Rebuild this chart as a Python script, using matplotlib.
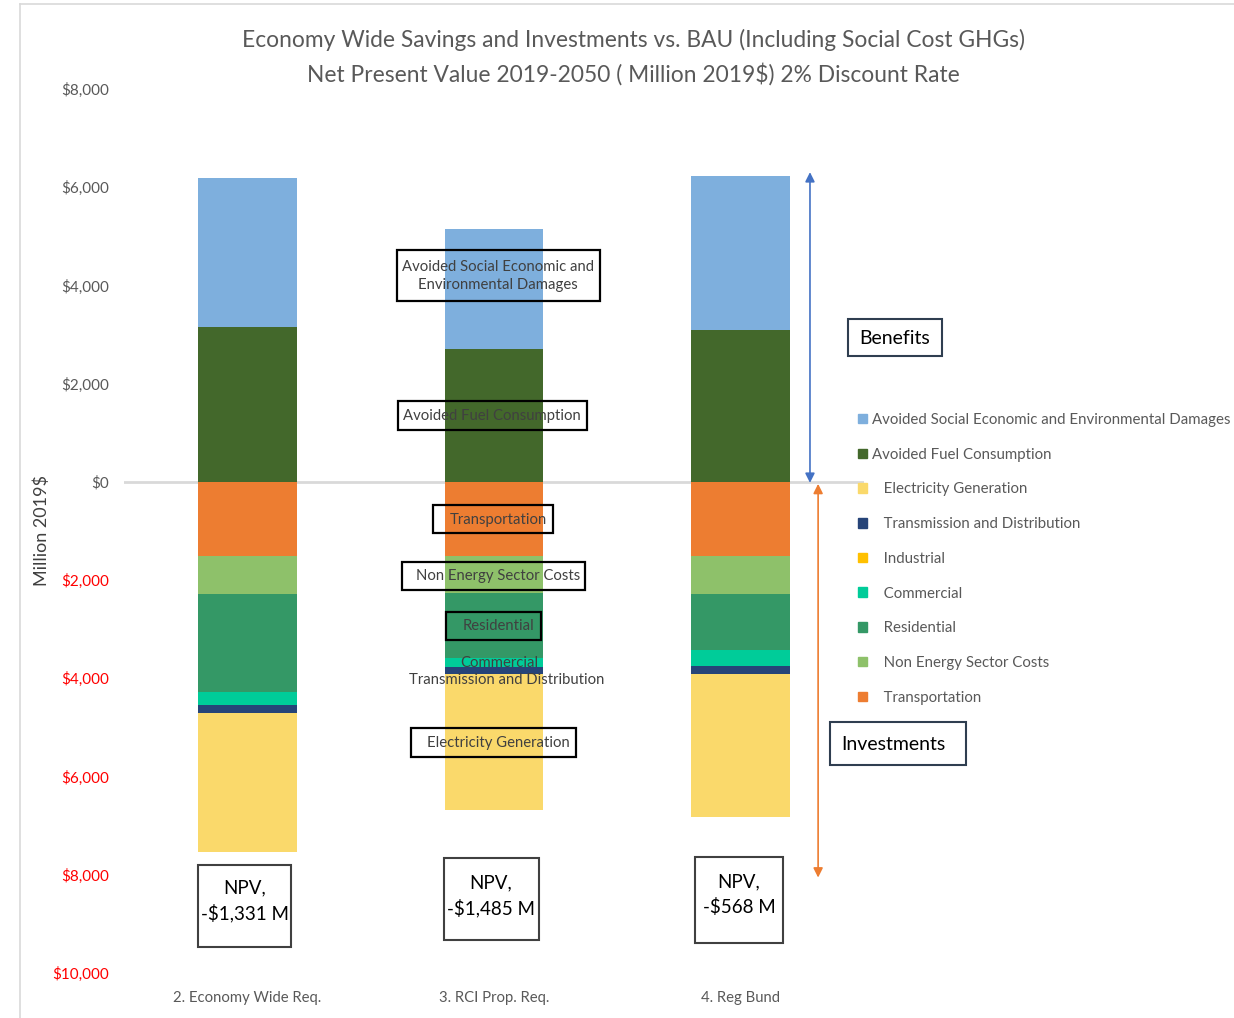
import matplotlib
matplotlib.use("Agg")
import matplotlib.pyplot as plt
from matplotlib.patches import Patch, Rectangle
from matplotlib.lines import Line2D
import numpy as np

plt.rcParams['font.family'] = ['Lato', 'DejaVu Sans']

categories = ["2. Economy Wide Req.", "3. RCI Prop. Req.", "4. Reg Bund"]
damages = [3031, 2442, 3133]
fuel = [3154, 2706, 3093]
transportation = [-1506, -1506, -1506]
non_energy = [-773, -760, -773]
residential = [-1994, -1330, -1140]
commercial = [-265, -170, -326]
industrial = [0, 0, 0]
td = [-163, -150, -163]
electricity = [-2828, -2767, -2914]
npv = [-1331, -1485, -568]
yticks = [-10000, -8000, -6000, -4000, -2000, 0, 2000, 4000, 6000, 8000]

colors = {
    "Avoided Social Economic and Environmental Damages": "#7EAFDD",
    "Avoided Fuel Consumption": "#43682B",
    "Electricity Generation": "#FAD96B",
    "Transmission and Distribution": "#264478",
    "Industrial": "#FFC000",
    "Commercial": "#00CC99",
    "Residential": "#349866",
    "Non Energy Sector Costs": "#8EC16A",
    "Transportation": "#ED7D31",
}

W, H = 1234, 1018
fig = plt.figure(figsize=(W/100, H/100), dpi=100)
ax = fig.add_axes([124/W, 1-973/H, 740/W, (973-89)/H])


def fx(px):
    return px / W


def fy(py):
    return 1 - py / H


def pbox(x0, x1, y0, y1, ec='black', lw=1.6):
    fig.add_artist(Rectangle((fx(x0), fy(y1)), fx(x1) - fx(x0), fy(y0) - fy(y1),
                             transform=fig.transFigure, fill=False, ec=ec, lw=lw, zorder=5))


def ptext(px, py, s, **kw):
    fig.text(fx(px), fy(py), s, ha='center', va='center', zorder=6, **kw)


x = np.arange(len(categories))
w = 0.40

pos_series = [("Avoided Fuel Consumption", fuel),
              ("Avoided Social Economic and Environmental Damages", damages)]
bottom = np.zeros(3)
for name, vals in pos_series:
    v = np.array(vals, float)
    ax.bar(x, v, w, bottom=bottom, color=colors[name], zorder=2)
    bottom += v

neg_series = [("Transportation", transportation),
              ("Non Energy Sector Costs", non_energy),
              ("Residential", residential),
              ("Commercial", commercial),
              ("Industrial", industrial),
              ("Transmission and Distribution", td),
              ("Electricity Generation", electricity)]
bottom = np.zeros(3)
for name, vals in neg_series:
    v = np.array(vals, float)
    ax.bar(x, v, w, bottom=bottom, color=colors[name], zorder=2)
    bottom += v

ax.set_xlim(-0.5, 2.5)
ax.set_ylim(-10000, 8000)
ax.set_yticks(yticks)
labels = ax.set_yticklabels([f"${abs(t):,}" for t in yticks], fontsize=11)
for t, lab in zip(yticks, labels):
    lab.set_color("#FF0000" if t < 0 else "#595959")
ax.tick_params(axis='y', length=0, pad=11)
ax.set_xticks([])
for s in ax.spines.values():
    s.set_visible(False)
ax.axhline(0, color="#D9D9D9", lw=2, zorder=1)

for i, c in enumerate(categories):
    ax.text(x[i], -10500, c, ha='center', va='center', fontsize=10.7, color="#595959")

ax.set_ylabel("Million 2019$", fontsize=13, color="#404040")
ax.yaxis.set_label_coords(-0.1, 0.5)

# title
ptext(633, 40, "Economy Wide Savings and Investments vs. BAU (Including Social Cost GHGs)",
      fontsize=16.4, color="#595959")
ptext(633, 74, "Net Present Value 2019-2050 ( Million 2019$) 2% Discount Rate",
      fontsize=16.4, color="#595959")

# NPV boxes
npv_boxes = [(198, 291, 865, 947), (444, 539, 858, 940), (695, 783, 857, 943)]
npv_centers = [(245, 901), (491, 896), (739, 895)]
for v, b, c in zip(npv, npv_boxes, npv_centers):
    pbox(*b, ec='#404040', lw=1.5)
    ptext(c[0], c[1], f"NPV,\n-${abs(v):,} M", fontsize=13.5, color='black', linespacing=1.5)

# annotations on middle bar
ak = dict(fontsize=10.7, color="#404040")
pbox(397, 600, 250, 301)
ptext(498, 276, "Avoided Social Economic and\nEnvironmental Damages", linespacing=1.45, **ak)
pbox(398, 587, 401, 430)
ptext(492, 416, "Avoided Fuel Consumption", **ak)
pbox(433, 553, 505, 533)
ptext(498, 520, "Transportation", **ak)
pbox(402, 585, 562, 590)
ptext(498, 576, "Non Energy Sector Costs", **ak)
pbox(446, 541, 612, 640)
ptext(498, 626, "Residential", **ak)
ptext(499, 663, "Commercial", **ak)
ptext(507, 680, "Transmission and Distribution", **ak)
pbox(411, 576, 728, 757)
ptext(498, 743, "Electricity Generation", **ak)

# benefits / investments
pbox(848, 942, 319, 356, ec='#2F3E50', lw=1.5)
ptext(895, 339, "Benefits", fontsize=14, color='black')
pbox(830, 966, 722, 765, ec='#2F3E50', lw=1.5)
ptext(893, 744, "Investments", fontsize=14, color='black')

ax.annotate("", xy=(2.281, 6307), xytext=(2.281, -20),
            arrowprops=dict(arrowstyle='<|-|>', color='#4472C4', lw=1.2,
                            mutation_scale=14, shrinkA=0, shrinkB=0))
ax.annotate("", xy=(2.314, -40), xytext=(2.314, -8057),
            arrowprops=dict(arrowstyle='<|-|>', color='#ED7D31', lw=1.2,
                            mutation_scale=14, shrinkA=0, shrinkB=0))

# legend
order = ["Avoided Social Economic and Environmental Damages", "Avoided Fuel Consumption",
         "Electricity Generation", "Transmission and Distribution", "Industrial",
         "Commercial", "Residential", "Non Energy Sector Costs", "Transportation"]
handles = [Patch(color=colors[n]) for n in order]
leg_labels = [n if k < 2 else "   " + n for k, n in enumerate(order)]
leg = fig.legend(handles, leg_labels, loc='upper left', bbox_to_anchor=(fx(858), fy(413)),
                 frameon=False, fontsize=10.8, handlelength=0.6, handleheight=0.6,
                 handletextpad=0.35, labelspacing=1.38, borderaxespad=0, borderpad=0)
for t in leg.get_texts():
    t.set_color("#595959")

# outer border
fig.add_artist(Line2D([fx(20), fx(20)], [0, fy(4)], color='#D9D9D9', lw=1.2))
fig.add_artist(Line2D([fx(20), 1], [fy(4), fy(4)], color='#D9D9D9', lw=1.2))

fig.savefig("out.png", dpi=100)
